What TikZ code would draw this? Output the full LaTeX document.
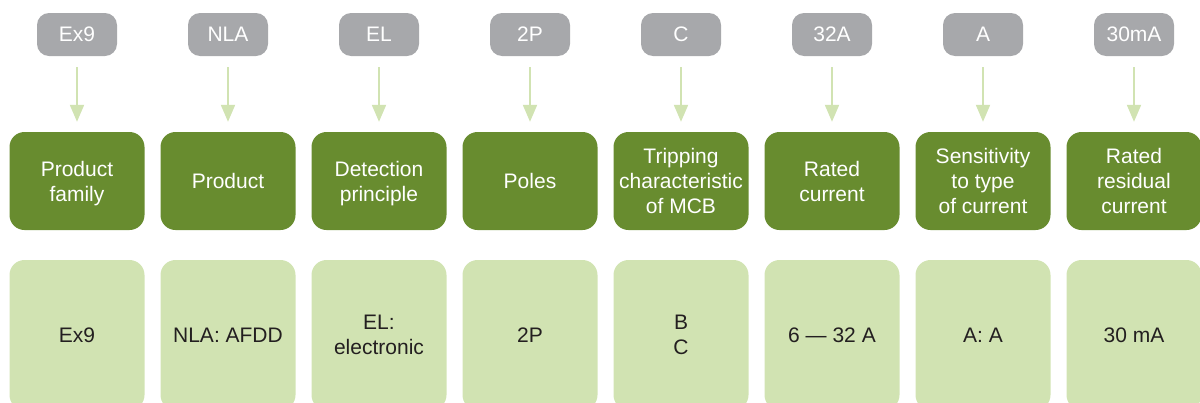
\documentclass[tikz,border=0pt]{standalone}
\usepackage{fontspec}
\setmainfont{Liberation Sans}
\usetikzlibrary{arrows.meta}
\definecolor{tagGray}{HTML}{A7A8AB}
\definecolor{darkGreen}{HTML}{688C2F}
\definecolor{lightGreen}{HTML}{D1E3B2}
\definecolor{txtDark}{HTML}{231F20}
\tikzset{
  tagbox/.style={fill=tagGray, draw=none, rounded corners=12pt, minimum width=80pt, minimum height=43pt, inner sep=0pt, text=white, font=\fontsize{21}{25}\selectfont},
  headbox/.style={fill=darkGreen, draw=none, rounded corners=15pt, minimum width=135pt, minimum height=98pt, inner sep=0pt, text=white, align=center, font=\fontsize{21}{25}\selectfont},
  valbox/.style={fill=lightGreen, draw=none, rounded corners=15pt, minimum width=135pt, minimum height=150pt, inner sep=0pt, text=txtDark, align=center, font=\fontsize{21}{25}\selectfont},
  arr/.style={draw=lightGreen, line width=2pt, -{Triangle[width=14pt,length=17pt]}, shorten <=11pt, shorten >=10pt}
}
\begin{document}
\begin{tikzpicture}[x=1pt,y=-1pt]
\useasboundingbox (0,0) rectangle (1200,402);
\clip (0,0) rectangle (1200,402);
\foreach \i/\tg/\hd/\vl in {
  0/Ex9/{Product\\\smash{family}}/Ex9,
  1/NLA/Product/{NLA: AFDD},
  2/EL/{Detection\\\smash{principle}}/{EL:\\electronic},
  3/2P/Poles/2P,
  4/C/{Tripping\\characteristic\\of MCB}/{B\\C},
  5/32A/{Rated\\current}/{6 — 32 A},
  6/A/{Sensitivity\\to type\\of current}/{A: A},
  7/30mA/{Rated\\residual\\current}/{30 mA}}{
  \pgfmathsetmacro{\cx}{77+151*\i}
  \node[tagbox] (t\i) at (\cx,34.5) {\tg};
  \node[headbox] (h\i) at (\cx,181) {\hd};
  \node[valbox] (v\i) at (\cx,335) {\vl};
  \draw[arr] (t\i.south) -- (h\i.north);
}
\end{tikzpicture}
\end{document}
